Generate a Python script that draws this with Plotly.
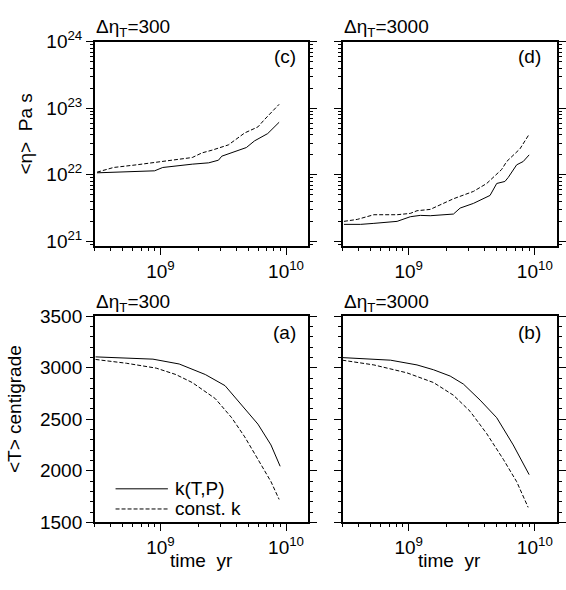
import plotly.graph_objects as go

# ---------------- data (log10 time [yr], value) ----------------
# panel (c): Δη_T=300, viscosity (log10 Pa s)
c_kTP_logt = [8.495, 8.730, 8.953, 9.018, 9.149, 9.253, 9.384, 9.462, 9.488, 9.567, 9.684, 9.749, 9.854, 9.945]
c_kTP_logeta = [22.03, 22.04, 22.06, 22.11, 22.14, 22.16, 22.18, 22.22, 22.28, 22.33, 22.41, 22.51, 22.62, 22.79]
c_const_logt = [8.495, 8.626, 8.809, 8.966, 9.122, 9.253, 9.331, 9.410, 9.541, 9.619, 9.671, 9.776, 9.828, 9.945]
c_const_logeta = [22.04, 22.11, 22.15, 22.19, 22.22, 22.26, 22.33, 22.37, 22.45, 22.56, 22.63, 22.72, 22.83, 23.06]

# panel (d): Δη_T=3000, viscosity
d_kTP_logt = [8.487, 8.619, 8.724, 8.830, 8.908, 9.013, 9.092, 9.171, 9.355, 9.408, 9.513, 9.645, 9.698, 9.763, 9.789, 9.856, 9.908, 9.955]
d_kTP_logeta = [21.255, 21.255, 21.27, 21.29, 21.30, 21.37, 21.39, 21.385, 21.41, 21.50, 21.57, 21.69, 21.87, 21.90, 21.96, 22.15, 22.20, 22.30]
d_const_logt = [8.487, 8.593, 8.724, 8.908, 9.013, 9.066, 9.171, 9.250, 9.355, 9.513, 9.619, 9.737, 9.777, 9.882, 9.955]
d_const_logeta = [21.30, 21.33, 21.40, 21.40, 21.42, 21.46, 21.48, 21.545, 21.64, 21.75, 21.87, 22.08, 22.20, 22.39, 22.61]

# panel (a): Δη_T=300, temperature (centigrade)
a_kTP_logt = [8.483, 8.940, 9.149, 9.357, 9.514, 9.645, 9.776, 9.880, 9.953]
a_kTP_T = [3105, 3083, 3036, 2934, 2826, 2640, 2453, 2251, 2044]
a_const_logt = [8.483, 8.730, 8.966, 9.122, 9.253, 9.436, 9.567, 9.671, 9.776, 9.880, 9.945]
a_const_T = [3080, 3043, 2996, 2934, 2856, 2701, 2515, 2329, 2112, 1895, 1723]

# panel (b): Δη_T=3000, temperature
b_kTP_logt = [8.474, 8.856, 9.066, 9.197, 9.329, 9.434, 9.566, 9.698, 9.829, 9.955]
b_kTP_T = [3098, 3073, 3027, 2980, 2919, 2841, 2686, 2515, 2251, 1963]
b_const_logt = [8.474, 8.724, 8.987, 9.197, 9.355, 9.487, 9.619, 9.750, 9.856, 9.947]
b_const_T = [3073, 3027, 2950, 2856, 2733, 2577, 2360, 2112, 1895, 1646]

x_major = [1e9, 1e10]
x_major_text = ["10<sup>9</sup>", "10<sup>10</sup>"]
eta_major = [1e21, 1e22, 1e23, 1e24]
eta_major_text = ["10<sup>21</sup>", "10<sup>22</sup>", "10<sup>23</sup>", "10<sup>24</sup>"]
T_major = [1500, 2000, 2500, 3000, 3500]

panel_titles = ["Δη<sub>T</sub>=300", "Δη<sub>T</sub>=3000", "Δη<sub>T</sub>=300", "Δη<sub>T</sub>=3000"]
panel_labels = ["(c)", "(d)", "(a)", "(b)"]
legend_names = ["k(T,P)", "const. k"]

# ---------------- layout helpers ----------------
W, H = 566, 590
FONT = "Liberation Sans, Arial, Helvetica, sans-serif"
FS = 19

def px(x):
    return x / W

def py(y):
    return 1 - y / H

x_minor = [m * 10.0 ** e for e in (8, 9) for m in range(2, 10) if 2.9e8 <= m * 10.0 ** e <= 1.5e10]
eta_minor = [m * 10.0 ** e for e in (20, 21, 22, 23) for m in range(2, 10) if 8.5e20 <= m * 10.0 ** e <= 1e24]

fig = go.Figure()

def add_pair(xs1, ys1, xs2, ys2, xa, ya, log_y):
    f = (lambda v: [10.0 ** q for q in v]) if log_y else (lambda v: v)
    fig.add_trace(go.Scatter(x=[10.0 ** q for q in xs1], y=f(ys1), mode="lines",
                             line=dict(color="black", width=1), xaxis=xa, yaxis=ya,
                             showlegend=False, name=legend_names[0]))
    fig.add_trace(go.Scatter(x=[10.0 ** q for q in xs2], y=f(ys2), mode="lines",
                             line=dict(color="black", width=1, dash="4px,2px"), xaxis=xa, yaxis=ya,
                             showlegend=False, name=legend_names[1]))

add_pair(c_kTP_logt, c_kTP_logeta, c_const_logt, c_const_logeta, "x", "y", True)
add_pair(d_kTP_logt, d_kTP_logeta, d_const_logt, d_const_logeta, "x2", "y2", True)
add_pair(a_kTP_logt, a_kTP_T, a_const_logt, a_const_T, "x3", "y3", False)
add_pair(b_kTP_logt, b_kTP_T, b_const_logt, b_const_T, "x4", "y4", False)

left_dom = [px(96), px(312)]
right_dom = [px(347), px(564)]
top_dom = [py(243), py(30)]
bot_dom = [py(531), py(316)]

common = dict(showline=True, linecolor="black", linewidth=1.5, showgrid=False, zeroline=False,
              ticks="outside", tickcolor="black", tickwidth=1, ticklen=7,
              tickfont=dict(family=FONT, size=FS, color="black"))

def xaxis(domain, anchor, show_labels):
    return dict(common, type="log", domain=domain, anchor=anchor, range=[8.477, 10.176],
                mirror=True, tickmode="array", tickvals=x_major, ticktext=x_major_text,
                showticklabels=show_labels,
                minor=dict(tickmode="array", tickvals=x_minor, ticks="outside", ticklen=3,
                           tickcolor="black", tickwidth=1, showgrid=False))

def yaxis_eta(domain, anchor, show_labels):
    return dict(common, type="log", domain=domain, anchor=anchor, range=[20.928, 24.0],
                mirror="allticks", tickmode="array", tickvals=eta_major, ticktext=eta_major_text,
                showticklabels=show_labels,
                minor=dict(tickmode="array", tickvals=eta_minor, ticks="outside", ticklen=3,
                           tickcolor="black", tickwidth=1, showgrid=False))

def yaxis_T(domain, anchor, show_labels):
    return dict(common, type="linear", domain=domain, anchor=anchor, range=[1500, 3500],
                mirror="allticks", tickmode="array", tickvals=T_major,
                ticktext=[str(v) for v in T_major], showticklabels=show_labels,
                minor=dict(dtick=100, ticks="outside", ticklen=3,
                           tickcolor="black", tickwidth=1, showgrid=False))

fig.update_layout(
    width=W, height=H,
    margin=dict(l=0, r=0, t=0, b=0),
    paper_bgcolor="white", plot_bgcolor="white",
    font=dict(family=FONT, size=FS, color="black"),
    showlegend=False,
    xaxis=xaxis(left_dom, "y", True),
    yaxis=yaxis_eta(top_dom, "x", True),
    xaxis2=xaxis(right_dom, "y2", True),
    yaxis2=yaxis_eta(top_dom, "x2", False),
    xaxis3=xaxis(left_dom, "y3", True),
    yaxis3=yaxis_T(bot_dom, "x3", True),
    xaxis4=xaxis(right_dom, "y4", True),
    yaxis4=yaxis_T(bot_dom, "x4", False),
)

ann = []
def text(x, y, s, xanchor="center", yanchor="middle", angle=0):
    ann.append(dict(x=px(x), y=py(y), xref="paper", yref="paper", text=s, showarrow=False,
                    xanchor=xanchor, yanchor=yanchor, textangle=angle,
                    font=dict(family=FONT, size=FS, color="black")))

# panel titles
text(95, 16, panel_titles[0], xanchor="left")
text(346, 16, panel_titles[1], xanchor="left")
text(95, 302, panel_titles[2], xanchor="left")
text(346, 302, panel_titles[3], xanchor="left")
# panel labels
text(302, 45, panel_labels[0], xanchor="right")
text(550, 45, panel_labels[1], xanchor="right")
text(302, 333, panel_labels[2], xanchor="right")
text(550, 333, panel_labels[3], xanchor="right")
# axis titles
text(26, 126, "&lt;η&gt;&nbsp; Pa s", angle=-90)
text(14, 413, "&lt;T&gt; centigrade", angle=-90)
text(204, 571, "time&nbsp; yr")
text(455, 571, "time&nbsp; yr")
# legend
text(175, 496, legend_names[0], xanchor="left")
text(175, 516, legend_names[1], xanchor="left")
fig.update_layout(annotations=ann)

fig.update_layout(shapes=[
    dict(type="line", xref="paper", yref="paper", x0=px(117), x1=px(170), y0=py(496), y1=py(496),
         line=dict(color="black", width=1)),
    dict(type="line", xref="paper", yref="paper", x0=px(117), x1=px(170), y0=py(517), y1=py(517),
         line=dict(color="black", width=1, dash="4px,2px")),
])

fig.write_html("out.html", config={"displayModeBar": False},
               post_script="document.body.style.margin='0';document.body.style.padding='0';document.body.style.overflow='hidden';")
